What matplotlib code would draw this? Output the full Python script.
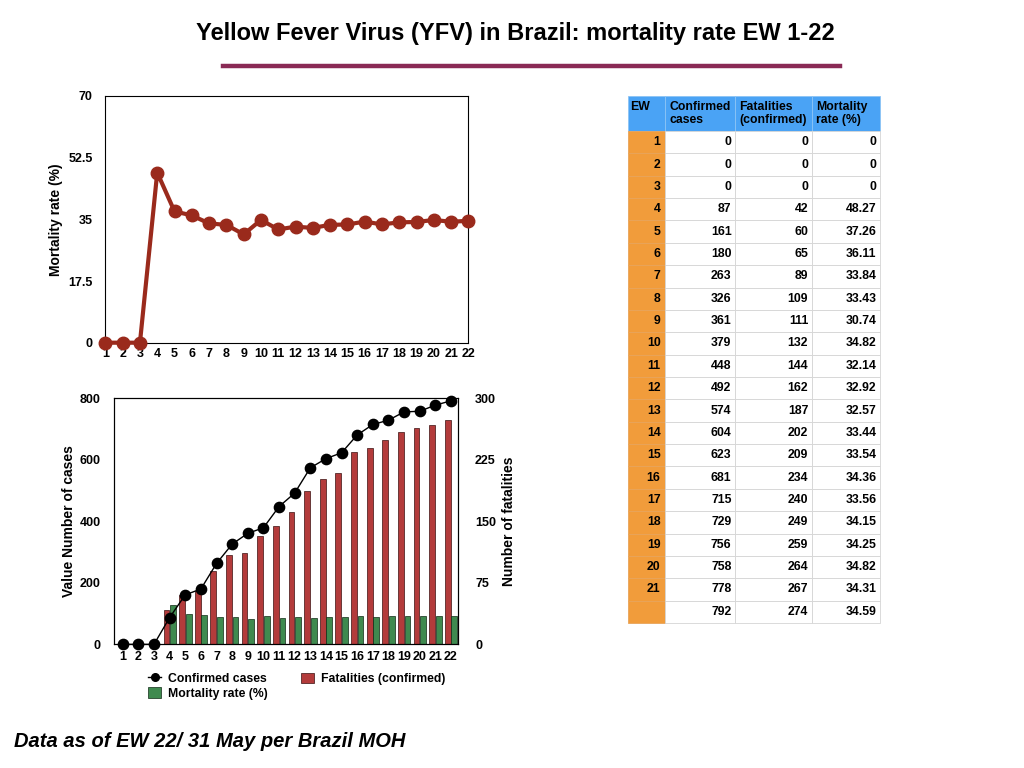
import matplotlib.pyplot as plt
from matplotlib.lines import Line2D
from matplotlib.patches import Patch

plt.rcParams['font.family'] = ['Liberation Sans', 'DejaVu Sans']
plt.rcParams['font.weight'] = 'bold'

# Data (epidemiological weeks 1-22)
weeks = list(range(1, 23))
cases = [0, 0, 0, 87, 161, 180, 263, 326, 361, 379, 448, 492, 574, 604, 623,
         681, 715, 729, 756, 758, 778, 792]
fatalities = [0, 0, 0, 42, 60, 65, 89, 109, 111, 132, 144, 162, 187, 202, 209,
              234, 240, 249, 259, 264, 267, 274]
mortality = [0, 0, 0, 48.27, 37.26, 36.11, 33.84, 33.43, 30.74, 34.82, 32.14,
             32.92, 32.57, 33.44, 33.54, 34.36, 33.56, 34.15, 34.25, 34.82,
             34.31, 34.59]

top_yticks = [0, 17.5, 35, 52.5, 70]
left_yticks = [0, 200, 400, 600, 800]
right_yticks = [0, 75, 150, 225, 300]
table_header = ['EW\n ', 'Confirmed\ncases', 'Fatalities\n(confirmed)', 'Mortality\nrate (%)']

line_red = '#9a2a1c'
bar_red = '#b33b3b'
bar_green = '#3f8a4f'

fig = plt.figure(figsize=(10.24, 7.68), dpi=100)

# Title and underline
fig.text(0.503, 0.957, 'Yellow Fever Virus (YFV) in Brazil: mortality rate EW 1-22',
         ha='center', va='center', fontsize=17, fontweight='bold')
fig.add_artist(Line2D([223 / 1024, 840 / 1024], [1 - 66 / 768, 1 - 66 / 768],
                      color='#8a2a55', lw=3.2))

# ---- Top chart: mortality rate ----
ax1 = fig.add_axes([0.1029, 0.5538, 0.3545, 0.3212])
ax1.plot(weeks, mortality, color=line_red, lw=3, marker='o', ms=9, clip_on=False, zorder=3)
ax1.set_xlim(1, 22)
ax1.set_ylim(0, 70)
ax1.set_xticks(weeks)
ax1.set_yticks(top_yticks)
ax1.set_yticklabels(['0', '17.5', '35', '52.5', '70'])
ax1.tick_params(length=0, labelsize=9, pad=4)
ax1.tick_params(axis='y', pad=9)
ax1.set_ylabel('Mortality rate (%)', fontsize=10, fontweight='bold', labelpad=4)
for s in ax1.spines.values():
    s.set_linewidth(0.8)

# ---- Bottom chart: cases + fatalities + mortality ----
ax2 = fig.add_axes([0.1116, 0.161, 0.336, 0.3203])
ax3 = ax2.twinx()
ax3.bar([w - 0.02 for w in weeks], fatalities, width=-0.37, align='edge',
        color=bar_red, edgecolor='#3a1010', lw=0.5)
ax3.bar([w + 0.03 for w in weeks], mortality, width=0.37, align='edge',
        color=bar_green, edgecolor='#0f2a15', lw=0.5)
ax3.set_ylim(0, 300)
ax3.set_yticks(right_yticks)
ax3.tick_params(length=0, labelsize=9, pad=12)
ax3.set_ylabel('Number of fatalities', fontsize=10, fontweight='bold', labelpad=4)

ax2.plot(weeks, cases, color='black', lw=1, marker='o', ms=7.4, clip_on=False, zorder=3)
ax2.set_zorder(ax3.get_zorder() + 1)
ax2.patch.set_visible(False)
ax2.set_xlim(0.46, 22.47)
ax2.set_ylim(0, 800)
ax2.set_xticks(weeks)
ax2.set_yticks(left_yticks)
ax2.tick_params(length=0, labelsize=9, pad=5)
ax2.tick_params(axis='y', pad=10)
ax2.set_ylabel('Value Number of cases', fontsize=10, fontweight='bold', labelpad=2)
for a in (ax2, ax3):
    for s in a.spines.values():
        s.set_linewidth(0.8)

handles = [Line2D([], [], color='black', marker='o', ms=5.5, lw=1),
           Patch(facecolor=bar_green, edgecolor='#0f2a15', lw=0.5),
           Patch(facecolor=bar_red, edgecolor='#3a1010', lw=0.5)]
labels = ['Confirmed cases', 'Mortality rate (%)', 'Fatalities (confirmed)']
fig.legend(handles, labels, ncol=2, loc='upper left', bbox_to_anchor=(0.139, 0.132),
           frameon=False, fontsize=8.8, handlelength=1.0, handleheight=0.9,
           handletextpad=0.6, columnspacing=2.75, labelspacing=0.2, borderpad=0)

# ---- Table ----
rows = []
for i, w in enumerate(weeks):
    ew = '' if w == 22 else str(w)
    rate = '0' if mortality[i] == 0 else f'{mortality[i]:.2f}'
    rows.append([ew, str(cases[i]), str(fatalities[i]), rate])

tax = fig.add_axes([0, 0, 1, 1])
tax.axis('off')
tab = tax.table(cellText=rows, colLabels=table_header,
                bbox=[628 / 1024, 1 - 623 / 768, 252 / 1024, 527 / 768])
tab.auto_set_font_size(False)
col_w = [37, 70, 77, 68]
for (r, c), cell in tab.get_celld().items():
    cell.set_width(col_w[c])
    cell.set_height(35 if r == 0 else 22.36)
    cell.set_edgecolor('#d4d4d4')
    cell.set_linewidth(0.6)
    txt = cell.get_text()
    txt.set_fontsize(8.8)
    txt.set_fontweight('bold')
    if r == 0:
        cell.set_facecolor('#4aa3f5')
        cell.set_edgecolor('#8cc4f5')
        txt.set_ha('left')
        cell._loc = 'left'
        cell.PAD = 0.06
    else:
        cell._loc = 'right'
        txt.set_ha('right')
        cell.PAD = 0.05
        if c == 0:
            cell.set_facecolor('#f19c3b')
            cell.set_edgecolor('#e8a45a')
            cell.PAD = 0.12

# Footer
fig.text(0.014, 0.035, 'Data as of EW 22/ 31 May per Brazil MOH', ha='left', va='center',
         fontsize=14.5, fontweight='bold', fontstyle='italic')

fig.savefig('out.png', dpi=100)
